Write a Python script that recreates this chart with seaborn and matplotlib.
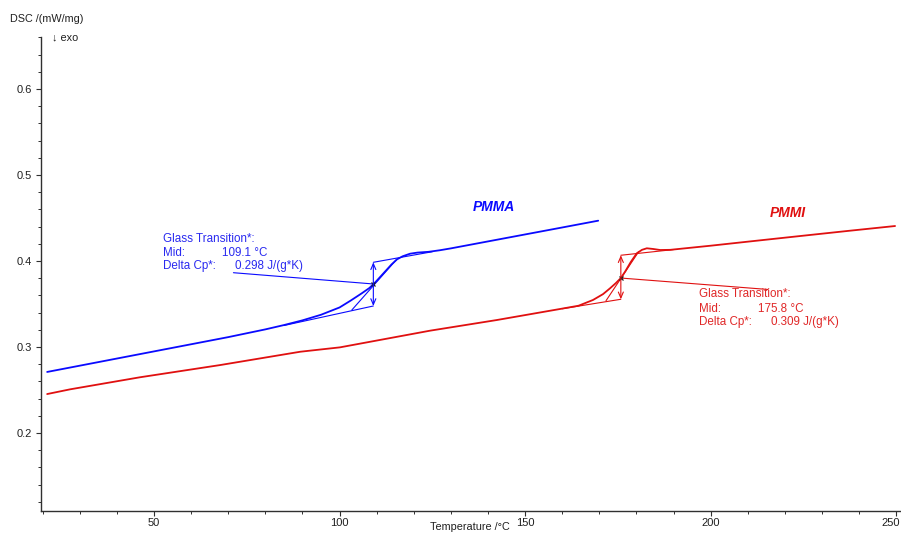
import matplotlib
matplotlib.use("Agg")
import matplotlib.pyplot as plt
import matplotlib.transforms as mtransforms
from matplotlib.ticker import MultipleLocator
import seaborn as sns
import pandas as pd

# PMMA heat-flow trace
pmma_T = [21.2, 30, 40, 50, 60, 70, 80, 85, 90, 95, 100, 103, 106, 108, 109.1,
          110, 112, 114, 115.5, 117, 119, 121, 124, 127, 130, 140, 150, 160, 169.7]
pmma_dsc = [0.2710, 0.2783, 0.2866, 0.2949, 0.3032, 0.3115, 0.3205, 0.3255, 0.3310,
            0.3375, 0.3460, 0.3540, 0.3625, 0.3685, 0.3730, 0.3770, 0.3865, 0.3960,
            0.4020, 0.4055, 0.4085, 0.4098, 0.4107, 0.4125, 0.4147, 0.4228, 0.4309,
            0.4390, 0.4469]

# PMMI heat-flow trace
pmmi_T = [21.2, 27.4, 46.2, 67.8, 89.4, 100.1, 124.4, 142.4, 159.4, 164.4, 168.3,
          171, 172.9, 174.5, 175.8, 177, 178.5, 180.1, 181.5, 182.8, 184.5, 186.4,
          189.1, 200, 210, 224, 237, 249.7]
pmmi_dsc = [0.2453, 0.2508, 0.2648, 0.2790, 0.2945, 0.2996, 0.3190, 0.3314, 0.3442,
            0.3480, 0.3547, 0.3615, 0.3683, 0.3745, 0.3802, 0.3880, 0.3990, 0.4090,
            0.4130, 0.4148, 0.4140, 0.4128, 0.4130, 0.4178, 0.4225, 0.4290, 0.4350,
            0.4407]

# Glass-transition evaluation results
pmma_tg, pmma_dcp = 109.1, 0.298
pmmi_tg, pmmi_dcp = 175.8, 0.309

# PMMA evaluation construction (baselines, inflection tangent, step, leader)
pmma_low_T, pmma_low_y = [85.0, pmma_tg], [0.3250, 0.3477]
pmma_up_T, pmma_up_y = [pmma_tg, 125.0], [0.3985, 0.4108]
pmma_tan_T, pmma_tan_y = [103.3, 115.4], [0.3430, 0.4020]
pmma_mid_y = 0.3733
pmma_lead_T, pmma_lead_y = [71.4, pmma_tg], [0.3864, pmma_mid_y]

# PMMI evaluation construction
pmmi_low_T, pmmi_low_y = [160.0, pmmi_tg], [0.3445, 0.3555]
pmmi_up_T, pmmi_up_y = [pmmi_tg, 190.0], [0.4067, 0.4133]
pmmi_tan_T, pmmi_tan_y = [171.8, 180.6], [0.3538, 0.4108]
pmmi_mid_y = 0.3802
pmmi_lead_T, pmmi_lead_y = [pmmi_tg, 215.5], [pmmi_mid_y, 0.3669]

x_major = [50, 100, 150, 200, 250]
y_major = [0.2, 0.3, 0.4, 0.5, 0.6]

BLUE = "#0a0aff"
RED = "#e01010"
BLUE_TXT = "#2a2af0"
RED_TXT = "#e02828"
FONT = ["Liberation Sans", "DejaVu Sans"]

sns.set_theme(style="white")
plt.rcParams["font.family"] = FONT

fig = plt.figure(figsize=(9.01, 5.33), dpi=100)
ax = fig.add_axes([41 / 901, 1 - 511 / 533, 1 - 41 / 901, (511 - 37) / 533])

df = pd.concat([
    pd.DataFrame({"T": pmma_T, "DSC": pmma_dsc, "sample": "PMMA"}),
    pd.DataFrame({"T": pmmi_T, "DSC": pmmi_dsc, "sample": "PMMI"}),
])
sns.lineplot(data=df, x="T", y="DSC", hue="sample", palette={"PMMA": BLUE, "PMMI": RED},
             sort=False, estimator=None, linewidth=1.3, legend=False, ax=ax)

def construction(color, low, up, tan, lead, tg, mid_y):
    for xs, ys in (low, up, tan, lead):
        sns.lineplot(x=xs, y=ys, color=color, linewidth=0.8, sort=False,
                     estimator=None, ax=ax)
    ax.annotate("", xy=(tg, low[1][-1]), xytext=(tg, up[1][0]),
                arrowprops=dict(arrowstyle="<->,head_length=0.35,head_width=0.15",
                                color=color, lw=0.8, shrinkA=0, shrinkB=0))
    ax.plot([tg], [mid_y], marker="x", color="#202020", markersize=3, mew=0.9)

construction(BLUE, (pmma_low_T, pmma_low_y), (pmma_up_T, pmma_up_y),
             (pmma_tan_T, pmma_tan_y), (pmma_lead_T, pmma_lead_y), pmma_tg, pmma_mid_y)
construction(RED, (pmmi_low_T, pmmi_low_y), (pmmi_up_T, pmmi_up_y),
             (pmmi_tan_T, pmmi_tan_y), (pmmi_lead_T, pmmi_lead_y), pmmi_tg, pmmi_mid_y)

# Evaluation text blocks
fs = 8.4
ax.text(52.35, 0.4256, "Glass Transition*:", color=BLUE_TXT, fontsize=fs, va="center")
ax.text(52.35, 0.4099, "Mid:", color=BLUE_TXT, fontsize=fs, va="center")
ax.text(68.27, 0.4099, f"{pmma_tg:.1f} °C", color=BLUE_TXT, fontsize=fs, va="center")
ax.text(52.35, 0.3942, "Delta Cp*:", color=BLUE_TXT, fontsize=fs, va="center")
ax.text(71.86, 0.3942, f"{pmma_dcp:.3f} J/(g*K)", color=BLUE_TXT, fontsize=fs, va="center")

ax.text(196.9, 0.3613, "Glass Transition*:", color=RED_TXT, fontsize=fs, va="center")
ax.text(196.9, 0.3438, "Mid:", color=RED_TXT, fontsize=fs, va="center")
ax.text(212.8, 0.3438, f"{pmmi_tg:.1f} °C", color=RED_TXT, fontsize=fs, va="center")
ax.text(196.9, 0.3294, "Delta Cp*:", color=RED_TXT, fontsize=fs, va="center")
ax.text(216.3, 0.3294, f"{pmmi_dcp:.3f} J/(g*K)", color=RED_TXT, fontsize=fs, va="center")

# Sample names
ax.text(141.6, 0.4630, "PMMA", color=BLUE, fontsize=10, fontweight="bold",
        fontstyle="italic", ha="center", va="center")
ax.text(220.9, 0.4560, "PMMI", color=RED, fontsize=10, fontweight="bold",
        fontstyle="italic", ha="center", va="center")

# Axes styling
ax.set_xlim(19.54, 251.3)
ax.set_ylim(0.1093, 0.6605)
ax.set_xticks(x_major)
ax.set_yticks(y_major)
ax.set_xticklabels([str(v) for v in x_major])
ax.set_yticklabels([f"{v:.1f}" for v in y_major])
ax.xaxis.set_minor_locator(MultipleLocator(10))
ax.yaxis.set_minor_locator(MultipleLocator(0.02))
ax.set_xlabel("")
ax.set_ylabel("")
for side in ("top", "right"):
    ax.spines[side].set_visible(False)
for side in ("left", "bottom"):
    ax.spines[side].set_color("#303030")
    ax.spines[side].set_linewidth(1.0)
ax.tick_params(axis="both", which="major", direction="out", length=3.5, width=0.8,
               color="#303030", labelsize=8, labelcolor="#202020")
ax.tick_params(axis="both", which="minor", direction="out", length=2, width=0.7,
               color="#303030")
ax.tick_params(axis="y", which="major", pad=3)
ax.tick_params(axis="x", which="major", pad=1.5)
ax.tick_params(axis="both", which="both", left=True, bottom=True)

# keep the last x tick label inside the canvas
last_lbl = ax.get_xticklabels()[-1]
last_lbl.set_transform(last_lbl.get_transform()
                       + mtransforms.ScaledTranslation(-5 / 100, 0, fig.dpi_scale_trans))

fig.text(10 / 901, 1 - 19 / 533, "DSC /(mW/mg)", fontsize=7.8, color="#202020",
         ha="left", va="center")
fig.text(52 / 901, 1 - 37 / 533, "↓ exo", fontsize=7.8, color="#202020",
         ha="left", va="center", family=FONT)
fig.text(470 / 901, 1 / 533, "Temperature /°C", fontsize=7.8, color="#202020",
         ha="center", va="bottom")

fig.savefig("out.png", dpi=100)
